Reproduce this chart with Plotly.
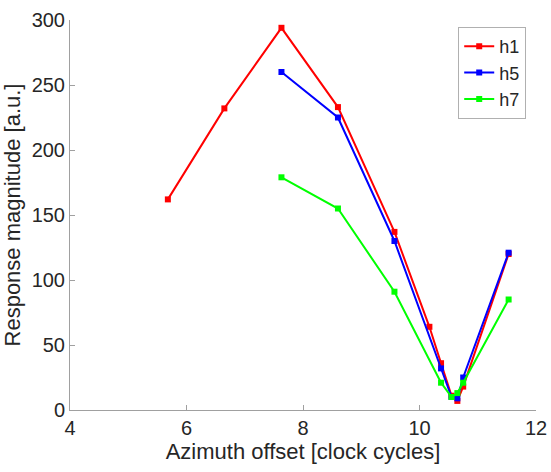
import plotly.graph_objects as go

# Azimuth offsets (clock cycles) and response magnitudes per harmonic
h1_x = [5.68, 6.65, 7.63, 8.60, 9.57, 10.17, 10.37, 10.55, 10.65, 10.75, 11.53]
h1_y = [162, 232, 294, 233, 137, 64, 36, 11, 7, 18, 120]

h5_x = [7.63, 8.60, 9.57, 10.37, 10.55, 10.65, 10.75, 11.53]
h5_y = [260, 225, 130, 32, 10, 9, 25, 121]

h7_x = [7.63, 8.60, 9.57, 10.37, 10.55, 10.65, 10.75, 11.53]
h7_y = [179, 155, 91, 21, 10, 13, 21, 85]

x_ticks = [4, 6, 8, 10, 12]
y_ticks = [0, 50, 100, 150, 200, 250, 300]

series = [
    ("h1", h1_x, h1_y, "#ff0000"),
    ("h5", h5_x, h5_y, "#0000ff"),
    ("h7", h7_x, h7_y, "#00ff00"),
]

fig = go.Figure()
for name, xs, ys, color in series:
    fig.add_trace(go.Scatter(
        x=xs, y=ys, name=name, mode="lines+markers",
        line=dict(color=color, width=2),
        marker=dict(symbol="square", size=6, color=color),
    ))

font_family = "Liberation Sans, Arial, sans-serif"
axis_color = "#a0a0a0"
text_color = "#262626"

fig.update_layout(
    width=551, height=472,
    margin=dict(l=70, r=15, t=20, b=62, autoexpand=False),
    paper_bgcolor="white", plot_bgcolor="white",
    font=dict(family=font_family, size=20, color=text_color),
    showlegend=True,
    legend=dict(
        x=0.979, y=0.982, xanchor="right", yanchor="top",
        bordercolor="#b0b0b0", borderwidth=1, bgcolor="white",
        font=dict(size=18, color=text_color),
        itemwidth=30, tracegroupgap=0,
    ),
)

fig.update_xaxes(
    range=[4, 12], tickvals=x_ticks, ticktext=[str(v) for v in x_ticks],
    showgrid=False, zeroline=False, showline=True, linecolor=axis_color, linewidth=1,
    ticks="inside", ticklen=5, tickcolor=axis_color, automargin=False,
    tickfont=dict(size=20, color=text_color),
    title=dict(text="Azimuth offset [clock cycles]", font=dict(size=22, color=text_color), standoff=4),
)
fig.update_yaxes(
    range=[0, 300], tickvals=y_ticks, ticktext=[str(v) for v in y_ticks],
    showgrid=False, zeroline=False, showline=True, linecolor=axis_color, linewidth=1,
    ticks="inside", ticklen=5, tickcolor=axis_color, automargin=False,
    tickfont=dict(size=20, color=text_color),
    title=dict(text="Response magnitude [a.u.]", font=dict(size=22, color=text_color), standoff=6),
)

fig.write_html("out.html")
